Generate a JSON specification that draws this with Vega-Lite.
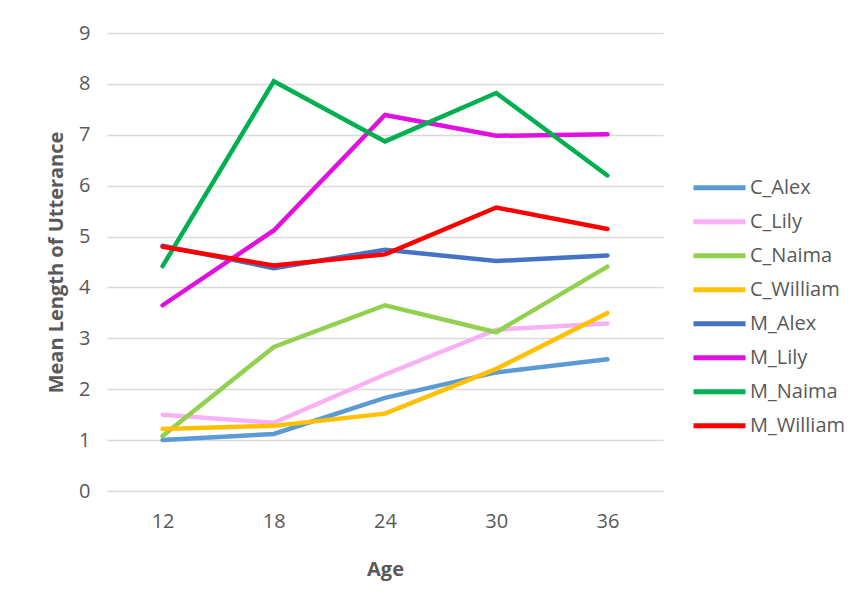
{
  "$schema": "https://vega.github.io/schema/vega-lite/v6.json",
  "width": 556,
  "height": 458,
  "autosize": {"type": "none"},
  "padding": {"left": 107, "top": 33, "right": 194, "bottom": 110},
  "background": "white",
  "config": {
    "font": "Open Sans",
    "view": {"stroke": null},
    "axis": {"labelColor": "#595959", "titleColor": "#595959", "labelFontSize": 20, "titleFontSize": 20, "titleFontWeight": "bold", "labelFont": "Open Sans", "titleFont": "Open Sans"}
  },
  "data": {"values": [
    {"Age": "12", "series": "C_Alex", "mlu": 1.0},
    {"Age": "18", "series": "C_Alex", "mlu": 1.12},
    {"Age": "24", "series": "C_Alex", "mlu": 1.83},
    {"Age": "30", "series": "C_Alex", "mlu": 2.33},
    {"Age": "36", "series": "C_Alex", "mlu": 2.59},
    {"Age": "12", "series": "C_Lily", "mlu": 1.5},
    {"Age": "18", "series": "C_Lily", "mlu": 1.34},
    {"Age": "24", "series": "C_Lily", "mlu": 2.29},
    {"Age": "30", "series": "C_Lily", "mlu": 3.17},
    {"Age": "36", "series": "C_Lily", "mlu": 3.29},
    {"Age": "12", "series": "C_Naima", "mlu": 1.08},
    {"Age": "18", "series": "C_Naima", "mlu": 2.83},
    {"Age": "24", "series": "C_Naima", "mlu": 3.65},
    {"Age": "30", "series": "C_Naima", "mlu": 3.12},
    {"Age": "36", "series": "C_Naima", "mlu": 4.41},
    {"Age": "12", "series": "C_William", "mlu": 1.22},
    {"Age": "18", "series": "C_William", "mlu": 1.28},
    {"Age": "24", "series": "C_William", "mlu": 1.52},
    {"Age": "30", "series": "C_William", "mlu": 2.4},
    {"Age": "36", "series": "C_William", "mlu": 3.5},
    {"Age": "12", "series": "M_Alex", "mlu": 4.82},
    {"Age": "18", "series": "M_Alex", "mlu": 4.38},
    {"Age": "24", "series": "M_Alex", "mlu": 4.74},
    {"Age": "30", "series": "M_Alex", "mlu": 4.52},
    {"Age": "36", "series": "M_Alex", "mlu": 4.63},
    {"Age": "12", "series": "M_Lily", "mlu": 3.65},
    {"Age": "18", "series": "M_Lily", "mlu": 5.12},
    {"Age": "24", "series": "M_Lily", "mlu": 7.39},
    {"Age": "30", "series": "M_Lily", "mlu": 6.98},
    {"Age": "36", "series": "M_Lily", "mlu": 7.01},
    {"Age": "12", "series": "M_Naima", "mlu": 4.42},
    {"Age": "18", "series": "M_Naima", "mlu": 8.05},
    {"Age": "24", "series": "M_Naima", "mlu": 6.87},
    {"Age": "30", "series": "M_Naima", "mlu": 7.82},
    {"Age": "36", "series": "M_Naima", "mlu": 6.2},
    {"Age": "12", "series": "M_William", "mlu": 4.8},
    {"Age": "18", "series": "M_William", "mlu": 4.43},
    {"Age": "24", "series": "M_William", "mlu": 4.65},
    {"Age": "30", "series": "M_William", "mlu": 5.57},
    {"Age": "36", "series": "M_William", "mlu": 5.15}
  ]},
  "mark": {"type": "line", "strokeWidth": 4.5, "strokeCap": "round", "strokeJoin": "miter"},
  "encoding": {
    "x": {"field": "Age", "type": "ordinal", "sort": ["12", "18", "24", "30", "36"],
      "scale": {"type": "point", "padding": 0.5},
      "axis": {"title": "Age", "labelAngle": 0, "domain": false, "ticks": false, "grid": false, "labelPadding": 20, "titlePadding": 28}},
    "y": {"field": "mlu", "type": "quantitative", "scale": {"domain": [0, 9], "nice": false},
      "axis": {"title": "Mean Length of Utterance", "values": [0,1,2,3,4,5,6,7,8,9], "domain": false, "ticks": false, "gridColor": "#D9D9D9", "gridWidth": 1.5, "labelPadding": 17, "titlePadding": 12}},
    "color": {"field": "series", "type": "nominal",
      "scale": {"domain": ["C_Alex", "C_Lily", "C_Naima", "C_William", "M_Alex", "M_Lily", "M_Naima", "M_William"],
        "range": ["#5B9BD5", "#F9B1F6", "#92D050", "#FFC000", "#4472C4", "#E010E0", "#00B050", "#FF0000"]},
      "legend": {"title": null, "orient": "none", "legendX": 584, "legendY": 138, "symbolType": "stroke", "symbolSize": 2704, "symbolStrokeWidth": 5, "labelFontSize": 20, "labelColor": "#595959", "labelFont": "Open Sans", "clipHeight": 33.5, "rowPadding": 0, "labelOffset": 2}}
  }
}
